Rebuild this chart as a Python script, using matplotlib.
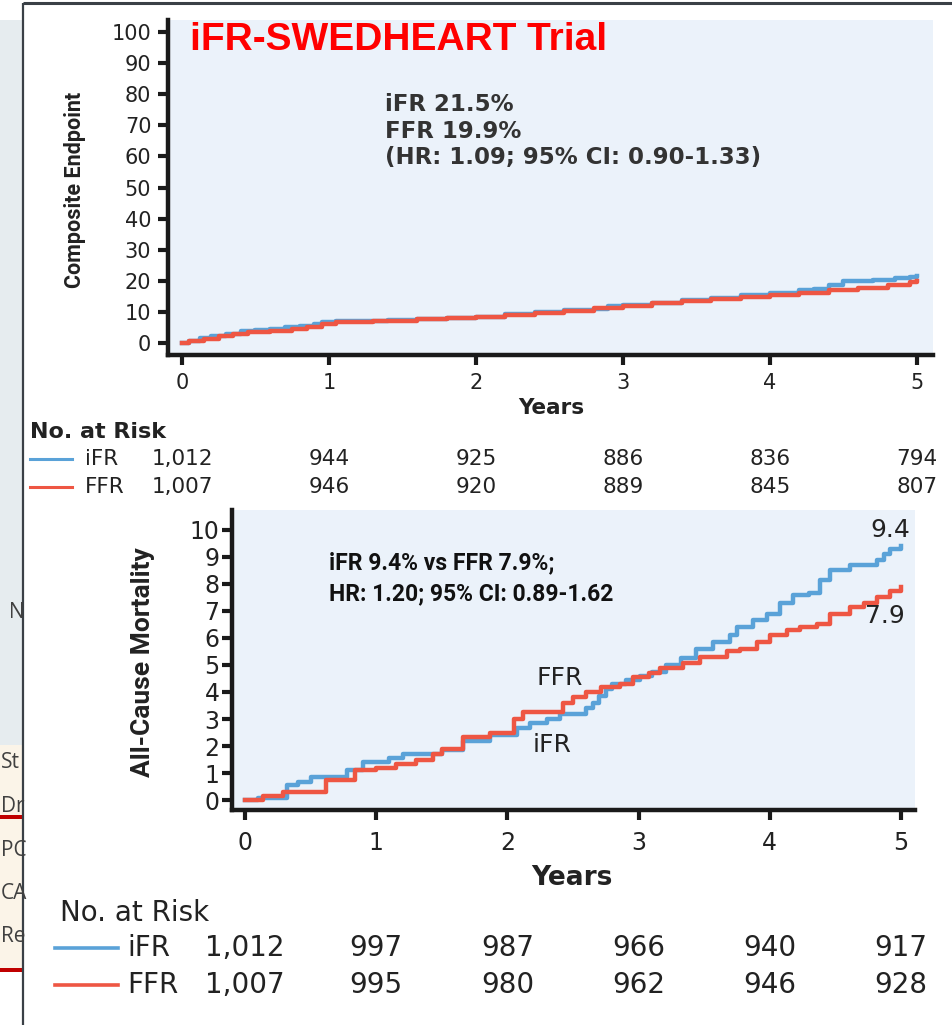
import matplotlib
matplotlib.use('Agg')
import matplotlib.pyplot as plt
from matplotlib import transforms
from matplotlib.patches import Rectangle

# composite endpoint (%) - iFR-SWEDHEART, Kaplan-Meier steps
ce_ifr_t = [0, 0.05, 0.12, 0.2, 0.3, 0.4, 0.5, 0.6, 0.7, 0.8, 0.9, 0.95, 1.05, 1.2, 1.4,
            1.6, 1.8, 2.0, 2.2, 2.4, 2.6, 2.8, 2.9, 3.0, 3.2, 3.4, 3.6, 3.8, 4.0, 4.2,
            4.3, 4.4, 4.5, 4.7, 4.85, 4.95, 5.0]
ce_ifr_v = [0, 0.8, 1.5, 2.2, 3.0, 3.8, 4.2, 4.6, 5.0, 5.5, 6.2, 6.8, 7.0, 7.2, 7.5,
            7.8, 8.0, 8.5, 9.2, 10.0, 10.5, 11.0, 11.8, 12.2, 13.0, 13.8, 14.6, 15.3, 16.2, 16.9,
            17.5, 18.8, 20.0, 20.4, 20.8, 21.3, 21.5]
ce_ffr_t = [0, 0.05, 0.15, 0.25, 0.35, 0.45, 0.6, 0.75, 0.85, 0.95, 1.05, 1.3, 1.6, 1.8, 2.0,
            2.2, 2.4, 2.6, 2.8, 3.0, 3.2, 3.4, 3.6, 3.8, 4.0, 4.2, 4.4, 4.6, 4.8, 4.95, 5.0]
ce_ffr_v = [0, 0.7, 1.4, 2.2, 2.8, 3.4, 3.9, 4.4, 5.1, 6.2, 6.8, 7.2, 7.6, 7.9, 8.4,
            9.1, 9.8, 10.4, 11.2, 11.9, 12.8, 13.5, 14.2, 14.8, 15.5, 16.2, 16.9, 17.8, 18.7, 19.5, 19.9]

# all-cause mortality (%)
mort_ifr_t = [0, 0.1, 0.32, 0.4, 0.5, 0.78, 0.9, 1.1, 1.2, 1.5, 1.66, 1.87, 2.07, 2.17, 2.3,
              2.4, 2.6, 2.65, 2.7, 2.75, 2.8, 2.9, 3.01, 3.1, 3.21, 3.32, 3.44, 3.57, 3.7, 3.75,
              3.87, 3.98, 4.08, 4.18, 4.3, 4.38, 4.46, 4.61, 4.82, 4.87, 4.92, 5.0]
mort_ifr_v = [0, 0.07, 0.55, 0.68, 0.86, 1.1, 1.4, 1.55, 1.7, 1.85, 2.2, 2.4, 2.67, 2.85, 3.0,
              3.2, 3.4, 3.6, 3.85, 4.1, 4.3, 4.45, 4.6, 4.75, 5.0, 5.26, 5.6, 5.85, 6.1, 6.4,
              6.67, 6.9, 7.3, 7.6, 7.65, 8.15, 8.5, 8.7, 8.9, 9.1, 9.3, 9.4]
mort_ffr_t = [0, 0.14, 0.29, 0.62, 0.84, 1.0, 1.15, 1.3, 1.43, 1.5, 1.66, 1.87, 2.05, 2.12, 2.42,
              2.5, 2.6, 2.71, 2.86, 2.96, 3.08, 3.16, 3.34, 3.47, 3.67, 3.77, 3.9, 4.0, 4.13, 4.23,
              4.36, 4.46, 4.61, 4.72, 4.82, 4.92, 5.0]
mort_ffr_v = [0, 0.15, 0.3, 0.74, 1.1, 1.2, 1.35, 1.5, 1.7, 1.9, 2.33, 2.5, 3.0, 3.27, 3.6,
              3.8, 4.0, 4.2, 4.3, 4.55, 4.7, 4.9, 5.07, 5.3, 5.5, 5.6, 5.85, 6.1, 6.3, 6.4,
              6.5, 6.9, 7.15, 7.3, 7.5, 7.75, 7.9]

years = [0, 1, 2, 3, 4, 5]
risk_ce_ifr = ['1,012', '944', '925', '886', '836', '794']
risk_ce_ffr = ['1,007', '946', '920', '889', '845', '807']
risk_m_ifr = ['1,012', '997', '987', '966', '940', '917']
risk_m_ffr = ['1,007', '995', '980', '962', '946', '928']
side_rows = ['St', 'Dr', 'PC', 'CA', 'Re']

BLUE = '#5aa2d8'
RED = '#ee5643'
AXBG = '#ebf2fa'
INK = '#222222'
NARROW = ['Roboto', 'DejaVu Sans']

W, H = 953, 1025


def px_rect(l, t, r, b):
    return [l / W, 1 - b / H, (r - l) / W, (b - t) / H]


fig = plt.figure(figsize=(W / 100, H / 100), dpi=100)
bg = fig.add_axes([0, 0, 1, 1])
bg.set_xlim(0, W)
bg.set_ylim(H, 0)
bg.axis('off')

# strip of the neighbouring slide on the left
bg.add_patch(Rectangle((0, 20), 23, 725, color='#e6ecef', lw=0))
bg.add_patch(Rectangle((0, 745), 23, 225, color='#fbf4e8', lw=0))
bg.add_patch(Rectangle((0, 815), 23, 4, color='#c00000', lw=0))
bg.add_patch(Rectangle((0, 968), 23, 4, color='#c00000', lw=0))
clip = Rectangle((0, 0), 23, H, transform=bg.transData, visible=False)
bg.add_patch(clip)
frag = [bg.text(9, 613, 'N', fontsize=15, color='#404040', va='center', family='Open Sans')]
for i, s in enumerate(side_rows):
    frag.append(bg.text(1, 763 + i * 43.5, s, fontsize=15, color='#404040',
                        va='center', family='Open Sans'))
for t in frag:
    t.set_clip_path(clip)

# slide frame
bg.plot([23, W], [3, 3], color='#3a4046', lw=2.2, solid_capstyle='butt')
bg.plot([23, 23], [3, H], color='#3a4046', lw=1.6, solid_capstyle='butt')


def style_axes(ax, fs, pad_y, pad_x):
    ax.set_facecolor(AXBG)
    ax.spines[['top', 'right']].set_visible(False)
    for s in ('left', 'bottom'):
        ax.spines[s].set_linewidth(3.2)
        ax.spines[s].set_color('#1a1a1a')
    ax.tick_params(axis='both', length=7, width=3, color='#1a1a1a', labelsize=fs,
                   labelcolor=INK)
    ax.tick_params(axis='y', pad=pad_y)
    ax.tick_params(axis='x', pad=pad_x)


# ---- composite endpoint panel ----
ax1 = fig.add_axes(px_rect(168, 20, 933, 355), zorder=2)
style_axes(ax1, 15, 5, 6)
ax1.step(ce_ifr_t, ce_ifr_v, where='post', color=BLUE, lw=3.2)
ax1.step(ce_ffr_t, ce_ffr_v, where='post', color=RED, lw=3.2)
ax1.set_xlim(-0.095, 5.109)
ax1.set_ylim(-3.86, 103.9)
ax1.set_xticks(years)
ax1.set_yticks(range(0, 101, 10))
ax1.text(385, 93, 'iFR 21.5%\nFFR 19.9%\n(HR: 1.09; 95% CI: 0.90-1.33)',
         transform=bg.transData, clip_on=False,
         fontsize=16.5, fontweight='bold', color='#333333', va='top', ha='left',
         linespacing=1.2)
ax1.text(190, 40, 'iFR-SWEDHEART Trial', transform=bg.transData, clip_on=False,
         fontsize=28, fontweight='bold', color='#ff0000', family='Liberation Sans',
         va='center', ha='left')
bg.text(75, 190, 'Composite Endpoint', rotation=90, ha='center', va='center',
        fontsize=15.5, fontweight='bold', family=NARROW, color=INK)
bg.text(551, 408, 'Years', ha='center', va='center', fontsize=15.5, fontweight='bold',
        color=INK)

tr1 = transforms.blended_transform_factory(ax1.transData, bg.transData)
bg.text(30, 432, 'No. at Risk', fontsize=16, fontweight='bold', color=INK, va='center')
bg.plot([30, 72], [459, 459], color=BLUE, lw=2.2)
bg.plot([30, 72], [487, 487], color=RED, lw=2.2)
bg.text(85, 459, 'iFR', fontsize=15.5, color=INK, va='center')
bg.text(85, 487, 'FFR', fontsize=15.5, color=INK, va='center')
for x, a, b in zip(years, risk_ce_ifr, risk_ce_ffr):
    bg.text(x, 459, a, transform=tr1, ha='center', va='center', fontsize=15.5, color=INK)
    bg.text(x, 487, b, transform=tr1, ha='center', va='center', fontsize=15.5, color=INK)

# ---- all-cause mortality panel ----
ax2 = fig.add_axes(px_rect(232, 510, 915, 810), zorder=2)
style_axes(ax2, 17, 2, 8)
ax2.step(mort_ifr_t, mort_ifr_v, where='post', color=BLUE, lw=3.2)
ax2.step(mort_ffr_t, mort_ffr_v, where='post', color=RED, lw=3.2)
ax2.set_xlim(-0.1, 5.107)
ax2.set_ylim(-0.37, 10.74)
ax2.set_xticks(years)
ax2.set_yticks(range(0, 11))
ax2.text(0.64, 8.2, 'iFR 9.4% vs FFR 7.9%;\nHR: 1.20; 95% CI: 0.89-1.62', fontsize=16.5,
         fontweight='bold', family=NARROW, color='#111111', va='center', ha='left',
         linespacing=1.45)
ax2.text(5.07, mort_ifr_v[-1] + 0.6, '9.4', ha='right', va='center', fontsize=18, color=INK)
ax2.text(5.03, mort_ffr_v[-1] - 1.1, '7.9', ha='right', va='center', fontsize=18, color=INK)
ax2.text(2.40, 4.52, 'FFR', ha='center', va='center', fontsize=18, color=INK)
ax2.text(2.34, 2.04, 'iFR', ha='center', va='center', fontsize=18, color=INK)
bg.text(143, 662, 'All-Cause Mortality', rotation=90, ha='center', va='center',
        fontsize=19, fontweight='bold', family=NARROW, color=INK)
bg.text(572, 878, 'Years', ha='center', va='center', fontsize=19, fontweight='bold',
        color=INK)

tr2 = transforms.blended_transform_factory(ax2.transData, bg.transData)
bg.text(60, 913, 'No. at Risk', fontsize=20, color=INK, va='center')
bg.plot([55, 118], [948, 948], color=BLUE, lw=2.6)
bg.plot([55, 118], [985, 985], color=RED, lw=2.6)
bg.text(127, 948, 'iFR', fontsize=20, color=INK, va='center')
bg.text(127, 985, 'FFR', fontsize=20, color=INK, va='center')
for x, a, b in zip(years, risk_m_ifr, risk_m_ffr):
    bg.text(x, 948, a, transform=tr2, ha='center', va='center', fontsize=20, color=INK)
    bg.text(x, 985, b, transform=tr2, ha='center', va='center', fontsize=20, color=INK)

fig.savefig('out.png', dpi=100)
